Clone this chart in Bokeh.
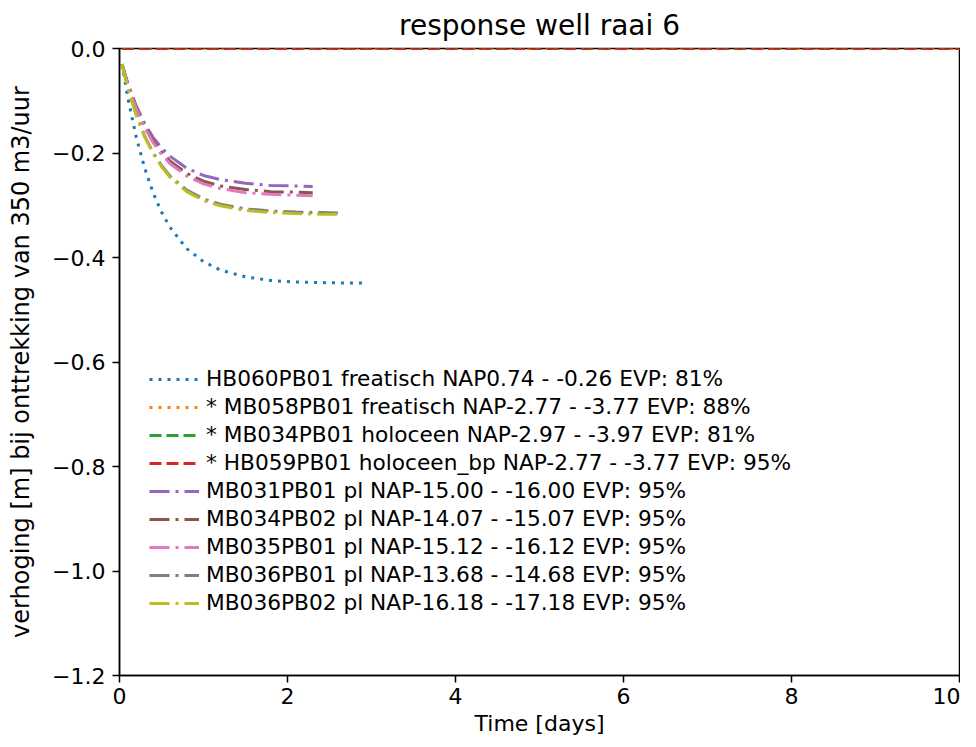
from bokeh.plotting import figure
from bokeh.models import Legend, LegendItem, FixedTicker, CustomJSTickFormatter, Range1d
from bokeh.embed import file_html
from bokeh.resources import INLINE

title = "response well raai 6"
x_label = "Time [days]"
y_label = "verhoging [m] bij onttrekking van 350 m3/uur"

labels = [
    "HB060PB01 freatisch NAP0.74 - -0.26 EVP: 81%",
    "* MB058PB01 freatisch NAP-2.77 - -3.77 EVP: 88%",
    "* MB034PB01 holoceen NAP-2.97 - -3.97 EVP: 81%",
    "* HB059PB01 holoceen_bp NAP-2.77 - -3.77 EVP: 95%",
    "MB031PB01 pl NAP-15.00 - -16.00 EVP: 95%",
    "MB034PB02 pl NAP-14.07 - -15.07 EVP: 95%",
    "MB035PB01 pl NAP-15.12 - -16.12 EVP: 95%",
    "MB036PB01 pl NAP-13.68 - -14.68 EVP: 95%",
    "MB036PB02 pl NAP-16.18 - -17.18 EVP: 95%",
]
colors = ["#1f77b4", "#ff7f0e", "#2ca02c", "#d62728", "#9467bd",
          "#8c564b", "#e377c2", "#7f7f7f", "#bcbd22"]

t_hb060 = [0.03, 0.1, 0.2, 0.3, 0.4, 0.5, 0.6, 0.8, 1.0, 1.2, 1.5, 1.8, 2.1, 2.4, 2.7, 2.95]
y_hb060 = [-0.030, -0.095, -0.170, -0.229, -0.276, -0.313, -0.342, -0.383, -0.408, -0.424,
           -0.437, -0.444, -0.447, -0.448, -0.449, -0.449]

t_zero = [0.03, 10.0]
y_mb058 = [0.0, 0.0]
y_mb034 = [0.0, 0.0]
y_hb059 = [0.0, 0.0]

t_pl_short = [0.03, 0.1, 0.2, 0.3, 0.4, 0.5, 0.6, 0.8, 1.0, 1.2, 1.5, 1.8, 2.1, 2.3]
y_mb031 = [-0.030, -0.067, -0.110, -0.144, -0.170, -0.190, -0.206, -0.229, -0.243, -0.251,
           -0.258, -0.262, -0.263, -0.264]
y_mb034b = [-0.030, -0.069, -0.114, -0.149, -0.177, -0.198, -0.215, -0.239, -0.254, -0.263,
            -0.270, -0.274, -0.275, -0.276]
y_mb035 = [-0.030, -0.070, -0.116, -0.152, -0.180, -0.203, -0.220, -0.244, -0.259, -0.268,
           -0.276, -0.279, -0.281, -0.282]

t_pl_long = [0.03, 0.1, 0.2, 0.3, 0.4, 0.5, 0.6, 0.8, 1.0, 1.2, 1.5, 1.8, 2.1, 2.4, 2.6]
y_mb036a = [-0.030, -0.075, -0.127, -0.168, -0.199, -0.224, -0.244, -0.271, -0.288, -0.298,
            -0.307, -0.311, -0.313, -0.314, -0.315]
y_mb036b = [-0.030, -0.075, -0.128, -0.169, -0.201, -0.226, -0.246, -0.274, -0.291, -0.301,
            -0.310, -0.314, -0.316, -0.317, -0.317]

series_t = [t_hb060, t_zero, t_zero, t_zero, t_pl_short, t_pl_short, t_pl_short, t_pl_long, t_pl_long]
series_y = [y_hb060, y_mb058, y_mb034, y_hb059, y_mb031, y_mb034b, y_mb035, y_mb036a, y_mb036b]
dashes = ["3 6", "3 6", "12 5", "12 5", "20 6 3 6", "20 6 3 6", "20 6 3 6", "20 6 3 6", "20 6 3 6"]

x_ticks = [0, 2, 4, 6, 8, 10]
y_ticks = [0.0, -0.2, -0.4, -0.6, -0.8, -1.0, -1.2]

FONT = "DejaVu Sans"

p = figure(width=960, height=739, output_backend="svg", toolbar_location=None,
           x_range=Range1d(0, 10), y_range=Range1d(-1.2, 0.0),
           min_border_left=119, min_border_right=1, min_border_top=47, min_border_bottom=64)
p.title.text = title
p.title.align = "center"
p.title.text_font = FONT
p.title.text_font_size = "28px"
p.title.text_font_style = "normal"
p.title.text_color = "black"
p.title.standoff = 13

p.xgrid.visible = False
p.ygrid.visible = False
p.outline_line_color = "black"
p.outline_line_alpha = 1.0
p.outline_line_width = 1.5

for ax in (p.xaxis[0], p.yaxis[0]):
    ax.axis_line_width = 1.5
    ax.major_tick_line_width = 1.5
    ax.major_tick_out = 7
    ax.major_tick_in = 0
    ax.minor_tick_line_color = None
    ax.major_label_text_font = FONT
    ax.major_label_text_font_size = "22px"
    ax.major_label_text_color = "black"
    ax.axis_label_text_font = FONT
    ax.axis_label_text_font_size = "22px"
    ax.axis_label_text_font_style = "normal"
    ax.axis_label_text_color = "black"

p.yaxis.axis_label_text_font_size = "24px"
p.xaxis.axis_label = x_label
p.yaxis.axis_label = y_label
p.xaxis.ticker = FixedTicker(ticks=x_ticks)
p.yaxis.ticker = FixedTicker(ticks=y_ticks)
p.yaxis.formatter = CustomJSTickFormatter(code="return tick.toFixed(1).replace('-', '\u2212');")
p.xaxis.major_label_standoff = 5
p.yaxis.major_label_standoff = 7
p.xaxis.axis_label_standoff = 4
p.yaxis.axis_label_standoff = 14

items = []
for i, (lab, c, t, y, d) in enumerate(zip(labels, colors, series_t, series_y, dashes)):
    lvl = "underlay" if i in (1, 2, 3) else "glyph"
    r = p.line(t, y, line_color=c, line_width=3, line_dash=d, level=lvl)
    items.append(LegendItem(label=lab, renderers=[r]))

legend = Legend(items=items, location=(22, 52))
legend.label_text_font = FONT
legend.label_text_font_size = "21.7px"
legend.label_text_color = "black"
legend.glyph_width = 50
legend.glyph_height = 20
legend.label_height = 20
legend.spacing = 3
legend.padding = 8
legend.border_line_alpha = 0
legend.background_fill_alpha = 0
legend.label_standoff = 7
p.add_layout(legend, "center")

open("out.html", "w").write(file_html(p, INLINE))
